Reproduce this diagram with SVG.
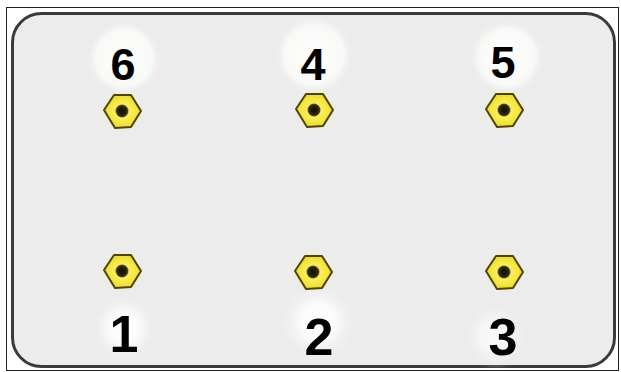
<svg xmlns="http://www.w3.org/2000/svg" width="621" height="372" viewBox="0 0 621 372">
<defs>
<radialGradient id="glow">
<stop offset="0" stop-color="#ffffff" stop-opacity="1"/>
<stop offset="0.75" stop-color="#f9f9f7" stop-opacity="0.95"/>
<stop offset="1" stop-color="#ececec" stop-opacity="0"/>
</radialGradient>
<radialGradient id="glow2">
<stop offset="0" stop-color="#ffffff" stop-opacity="1"/>
<stop offset="0.45" stop-color="#ffffff" stop-opacity="0.8"/>
<stop offset="1" stop-color="#ececec" stop-opacity="0"/>
</radialGradient>
<radialGradient id="nut" cx="0.5" cy="0.5" r="0.6">
<stop offset="0" stop-color="#fff685"/>
<stop offset="0.6" stop-color="#f4e73e"/>
<stop offset="1" stop-color="#e0cf30"/>
</radialGradient>
<radialGradient id="hole">
<stop offset="0" stop-color="#140f02"/>
<stop offset="0.7" stop-color="#2a2206"/>
<stop offset="1" stop-color="#6b5d14"/>
</radialGradient>
<radialGradient id="halo">
<stop offset="0.6" stop-color="#f7f07a" stop-opacity="0.6"/>
<stop offset="1" stop-color="#f4f0c0" stop-opacity="0"/>
</radialGradient>
<g id="hex">
<circle cx="0" cy="0" r="22" fill="url(#halo)"/>
<polygon points="-18,-1 -8,-16 9,-16 19,0 9,16 -7,17" fill="url(#nut)" stroke="#4d4412" stroke-width="2" stroke-linejoin="round"/>
<circle cx="0" cy="0" r="6.5" fill="url(#hole)"/>
</g>
</defs>
<style>
.lbl{font-family:"Liberation Sans",Arial,sans-serif;font-weight:bold;font-size:45px;fill:#000;text-anchor:middle}
.lblb{font-family:"Liberation Sans",Arial,sans-serif;font-weight:bold;font-size:52px;fill:#000;text-anchor:middle}
</style>
<rect x="0" y="0" width="621" height="372" fill="#ffffff"/>
<rect x="6.5" y="7.5" width="612" height="363" fill="none" stroke="#222" stroke-width="1"/>
<rect x="12.5" y="13.5" width="602" height="353" rx="29" ry="29" fill="#ececec" stroke="#3a3a3a" stroke-width="3"/>
<g id="glows">
<circle cx="124" cy="58" r="38" fill="url(#glow)"/>
<circle cx="314" cy="55" r="40" fill="url(#glow)"/>
<circle cx="507" cy="57" r="38" fill="url(#glow)"/>
<circle cx="124" cy="328" r="34" fill="url(#glow2)"/>
<circle cx="318" cy="322" r="40" fill="url(#glow2)"/>
<circle cx="496" cy="336" r="34" fill="url(#glow2)" opacity="0.7"/>
</g>
<g id="n6"><use href="#hex" x="122" y="111"/><text class="lbl" x="123" y="80">6</text></g>
<g id="n4"><use href="#hex" x="314" y="110"/><text class="lbl" x="313" y="80">4</text></g>
<g id="n5"><use href="#hex" x="504" y="110"/><text class="lbl" x="503" y="78">5</text></g>
<g id="n1"><use href="#hex" x="122" y="271"/><text class="lblb" x="124" y="352">1</text></g>
<g id="n2"><use href="#hex" x="313" y="272"/><text class="lblb" x="319" y="355">2</text></g>
<g id="n3"><use href="#hex" x="504" y="272"/><text class="lblb" x="503" y="355">3</text></g>
<g id="connectors"></g>
</svg>
